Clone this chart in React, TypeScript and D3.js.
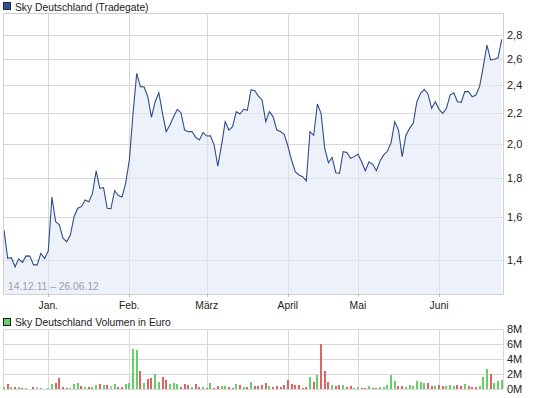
import React from "react";
import * as d3 from "d3";

const prices: number[] = [
  1.535, 1.407, 1.41, 1.371, 1.405, 1.39, 1.418, 1.417, 1.379, 1.379,
  1.429, 1.407, 1.439, 1.7, 1.576, 1.56, 1.497, 1.481, 1.512, 1.6,
  1.642, 1.65, 1.684, 1.675, 1.719, 1.842, 1.746, 1.75, 1.642, 1.64,
  1.733, 1.707, 1.7, 1.773, 1.905, 2.2, 2.488, 2.388, 2.385, 2.315,
  2.173, 2.28, 2.344, 2.2, 2.079, 2.122, 2.176, 2.227, 2.204, 2.089,
  2.079, 2.08, 2.043, 2.026, 2.073, 2.051, 2.053, 1.995, 1.87, 1.995,
  2.144, 2.089, 2.111, 2.211, 2.195, 2.227, 2.22, 2.364, 2.36, 2.32,
  2.292, 2.144, 2.211, 2.176, 2.089, 2.08, 2.062, 1.989, 1.905, 1.838,
  1.819, 1.81, 1.786, 2.079, 2.055, 2.264, 2.2, 1.975, 1.889, 1.92,
  1.832, 1.83, 1.955, 1.95, 1.915, 1.925, 1.94, 1.895, 1.843, 1.895,
  1.88, 1.843, 1.9, 1.935, 1.957, 2.01, 2.144, 2.089, 1.925, 2.055,
  2.1, 2.133, 2.28, 2.339, 2.368, 2.335, 2.234, 2.28, 2.227, 2.2,
  2.234, 2.327, 2.344, 2.28, 2.275, 2.352, 2.352, 2.315, 2.327, 2.388,
  2.54, 2.715, 2.593, 2.598, 2.61, 2.763,
];

// volume in million euro
const volumes: number[] = [
  0.27, 0.67, 0.27, 0.27, 0.27, 0.18, 0.13, 0, 0.27, 0.27,
  0.13, 0, 0.13, 0.67, 0.84, 1.47, 0.27, 0.13, 0.13, 0.67,
  0.8, 0.4, 0.27, 0.27, 0.27, 0.53, 0.67, 0.53, 0.53, 0.4,
  0.67, 0.27, 0.27, 0.67, 0.84, 5.33, 5.2, 2.4, 0.8, 1.33,
  1.47, 2.0, 0.93, 1.6, 1.2, 0.67, 0.8, 0.67, 0.27, 0.67,
  0.53, 0.27, 0.67, 0.27, 0.27, 0.13, 0.8, 0.13, 0.4, 0.4,
  0.4, 0.27, 0.13, 0.67, 0.53, 0.27, 0.27, 0.93, 0.4, 0.4,
  0.53, 0.8, 0.4, 0.27, 0.4, 0.27, 0.53, 1.2, 0.67, 0.53,
  0.53, 0.13, 0.27, 1.6, 0.93, 1.87, 6.0, 2.4, 0.93, 0.53,
  0.4, 0.53, 0.53, 0.27, 0.4, 0.13, 0.27, 0.13, 0.13, 0.4,
  0.13, 0.13, 0.27, 0.27, 0.53, 1.87, 1.07, 0.4, 0.4, 0.27,
  0.53, 0.4, 1.07, 0.93, 0.8, 0.8, 0.4, 0.4, 0.53, 0.4,
  0.4, 0.53, 0.4, 0.53, 0.4, 0.67, 0.4, 0.27, 0.27, 0.4,
  1.6, 2.67, 2.0, 0.8, 1.07, 1.2,
];

// u = up (green), d = down (red), f = unchanged (grey)
const dirList: string[] = [
  "u", "d", "u", "d", "u", "d", "u", "u", "d", "f",
  "u", "u", "u", "u", "d", "d", "d", "d", "u", "u",
  "u", "d", "u", "d", "u", "u", "d", "u", "d", "f",
  "u", "d", "d", "u", "u", "u", "u", "d", "u", "d",
  "d", "u", "u", "d", "d", "u", "u", "u", "d", "d",
  "d", "u", "d", "d", "u", "d", "u", "d", "d", "u",
  "u", "d", "d", "u", "d", "u", "d", "u", "d", "d",
  "d", "d", "u", "d", "d", "d", "d", "d", "d", "d",
  "d", "d", "d", "u", "d", "u", "d", "d", "d", "u",
  "d", "d", "u", "d", "d", "u", "u", "d", "d", "u",
  "d", "d", "u", "u", "u", "u", "u", "d", "d", "u",
  "u", "u", "u", "u", "u", "d", "d", "u", "d", "d",
  "u", "u", "u", "d", "d", "u", "d", "d", "d", "u",
  "u", "u", "d", "u", "u", "u",
];

const monthLabels: string[] = ["Jan.", "Feb.", "März", "April", "Mai", "Juni"];
const monthIndex: number[] = [12, 34, 55, 77, 96, 118];
const priceTicks: number[] = [1.4, 1.6, 1.8, 2.0, 2.2, 2.4, 2.6, 2.8];
const volumeTicks: number[] = [0, 2, 4, 6, 8];

const W = 545;
const H = 398;
const FONT = "'Liberation Sans', Arial, sans-serif";

export default function App() {
  const left = 3;
  const right = 503;
  const pTop = 13;
  const pBottom = 294;
  const vTop = 329;
  const vBottom = 389;

  const x = d3.scaleLinear().domain([0, prices.length - 1]).range([4, 501.7]);
  const y = d3.scaleLog().domain([1.4, 2.8]).range([260, 35]);
  const yv = d3.scaleLinear().domain([0, 8]).range([vBottom, vTop]);

  const line = d3
    .line<number>()
    .x((_, i) => x(i))
    .y((d) => y(d));
  const area = d3
    .area<number>()
    .x((_, i) => x(i))
    .y0(pBottom)
    .y1((d) => y(d));

  const grid = "#d8d8d8";
  const colorOf = (d: string) =>
    d === "u" ? "#66d066" : d === "d" ? "#dc6464" : "#bdbdbd";

  return (
    <svg
      width={W}
      height={H}
      style={{ position: "absolute", left: 0, top: 0, background: "#fff" }}
      fontFamily={FONT}
    >
      {/* Price legend */}
      <rect x={3.5} y={2.5} width={7} height={7} fill="#2f4f8f" stroke="#1a2a50" />
      <text x={15} y={10.5} fontSize={10.3} fill="#222">
        Sky Deutschland (Tradegate)
      </text>

      {/* Price panel */}
      <g shapeRendering="crispEdges">
        {priceTicks.map((t) => (
          <line key={t} x1={left} x2={right} y1={Math.round(y(t)) + 0.5} y2={Math.round(y(t)) + 0.5} stroke={grid} />
        ))}
        {monthIndex.map((m) => (
          <line key={m} x1={Math.round(x(m)) + 0.5} x2={Math.round(x(m)) + 0.5} y1={pTop} y2={pBottom} stroke={grid} />
        ))}
      </g>
      <path d={area(prices) || ""} fill="#e9eef9" fillOpacity={0.85} />
      <g shapeRendering="crispEdges">
        {priceTicks.map((t) => (
          <line key={t} x1={left} x2={right} y1={Math.round(y(t)) + 0.5} y2={Math.round(y(t)) + 0.5} stroke={grid} strokeOpacity={0.5} />
        ))}
        {monthIndex.map((m) => (
          <line key={m} x1={Math.round(x(m)) + 0.5} x2={Math.round(x(m)) + 0.5} y1={pTop} y2={pBottom} stroke={grid} strokeOpacity={0.5} />
        ))}
      </g>
      <path d={line(prices) || ""} fill="none" stroke="#2f4c8c" strokeWidth={1.1} />
      <rect x={left + 0.5} y={pTop + 0.5} width={right - left} height={pBottom - pTop} fill="none" stroke="#d0d0d0" shapeRendering="crispEdges" />
      {monthIndex.map((m) => (
        <line key={m} x1={Math.round(x(m)) + 0.5} x2={Math.round(x(m)) + 0.5} y1={pBottom} y2={pBottom + 3} stroke="#bbb" shapeRendering="crispEdges" />
      ))}
      <text x={8} y={290} fontSize={10.3} fill="#a0a0a0">
        14.12.11 – 26.06.12
      </text>
      {priceTicks.map((t) => (
        <text key={t} x={507} y={y(t) + 4} fontSize={11} fill="#222">
          {d3.format(".1f")(t).replace(".", ",")}
        </text>
      ))}
      {monthIndex.map((m, i) => (
        <text key={m} x={x(m)} y={309} fontSize={10.3} fill="#222" textAnchor="middle">
          {monthLabels[i]}
        </text>
      ))}

      {/* Volume legend */}
      <rect x={3.5} y={318.5} width={7} height={7} fill="#66d066" stroke="#1a1a1a" />
      <text x={15} y={326} fontSize={10.3} fill="#222">
        Sky Deutschland Volumen in Euro
      </text>

      {/* Volume panel */}
      <g shapeRendering="crispEdges">
        {volumeTicks.map((t) => (
          <line key={t} x1={left} x2={right} y1={Math.round(yv(t)) + 0.5} y2={Math.round(yv(t)) + 0.5} stroke={grid} />
        ))}
        {monthIndex.map((m) => (
          <line key={m} x1={Math.round(x(m)) + 0.5} x2={Math.round(x(m)) + 0.5} y1={vTop} y2={vBottom} stroke={grid} />
        ))}
        <line x1={left + 0.5} x2={left + 0.5} y1={vTop} y2={vBottom} stroke={grid} />
        <line x1={right + 0.5} x2={right + 0.5} y1={vTop} y2={vBottom} stroke={grid} />
        {volumes.map((v, i) =>
          v > 0 ? (
            <rect
              key={i}
              x={Math.round(x(i)) - 1}
              y={yv(v)}
              width={2}
              height={vBottom - yv(v)}
              fill={colorOf(dirList[i])}
            />
          ) : null
        )}
      </g>
      {volumeTicks.map((t) => (
        <text key={t} x={507} y={yv(t) + 4} fontSize={11} fill="#222">
          {t + "M"}
        </text>
      ))}
    </svg>
  );
}
